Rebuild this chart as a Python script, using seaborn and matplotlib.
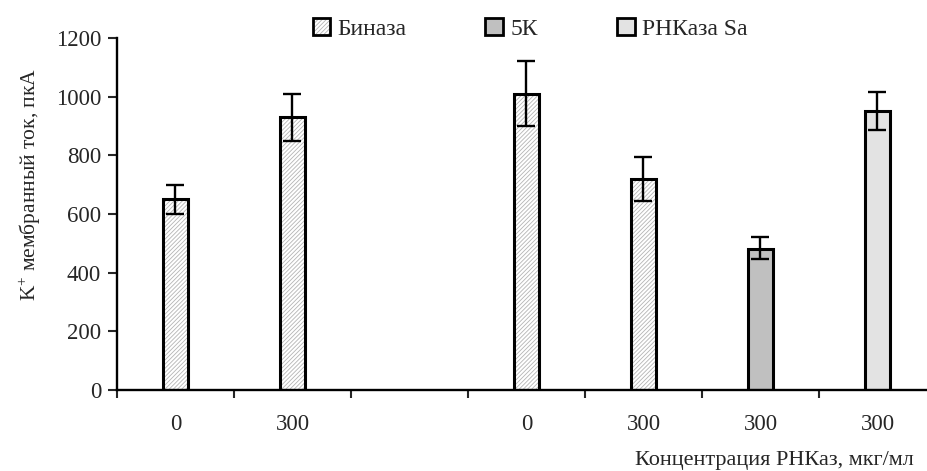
import matplotlib
matplotlib.use('Agg')
import matplotlib.pyplot as plt
from matplotlib.patches import Patch
import pandas as pd
import seaborn as sns

# category slots along x (one empty slot between the two groups)
slots = ['a', 'b', 'gap', 'c', 'd', 'e', 'f']
tick_labels = ['0', '300', '', '0', '300', '300', '300']

bar_slot = ['a', 'b', 'c', 'd', 'e', 'f']
bar_series = ['Биназа', 'Биназа', 'Биназа', 'Биназа', '5К', 'РНКаза Sa']
bar_values = [650, 930, 1010, 720, 480, 950]
err_low = [600, 850, 900, 645, 445, 885]
err_high = [700, 1010, 1120, 795, 520, 1015]

series_names = ['Биназа', '5К', 'РНКаза Sa']
fill_colors = ['white', '#c0c0c0', '#e3e3e3']

df = pd.DataFrame({'slot': bar_slot, 'series': bar_series, 'value': bar_values})

sns.set_style('white')
plt.rcParams['font.family'] = ['Liberation Serif', 'DejaVu Serif']
plt.rcParams['mathtext.fontset'] = 'custom'
plt.rcParams['mathtext.rm'] = 'Liberation Serif'
plt.rcParams['hatch.linewidth'] = 0.6

fig = plt.figure(figsize=(9.28, 4.71), dpi=100)
ax = fig.add_axes([117 / 928, 1 - 390 / 471, 819 / 928, 352 / 471])

# filled bars (no edges), hatching for Биназа
sns.barplot(data=df, x='slot', y='value', hue='series', order=slots,
            hue_order=series_names, palette=fill_colors, dodge=False,
            width=0.22, linewidth=0, errorbar=None, legend=False, ax=ax)
for p in ax.containers[0]:
    p.set_hatch('////////')
    p.set_edgecolor('#b4b4b4')

# black outlines on top
sns.barplot(data=df, x='slot', y='value', hue='series', order=slots,
            hue_order=series_names, palette=['black'] * 3, dodge=False,
            width=0.22, fill=False, linewidth=2.2, errorbar=None,
            legend=False, ax=ax)

xpos = [slots.index(s) for s in bar_slot]
yerr = [[v - lo for v, lo in zip(bar_values, err_low)],
        [hi - v for v, hi in zip(bar_values, err_high)]]
ax.errorbar(xpos, bar_values, yerr=yerr, fmt='none', ecolor='black',
            elinewidth=1.7, capsize=6.3, capthick=1.7, zorder=5)

ax.set_xlim(-0.5, 6.5)
ax.set_ylim(0, 1200)
ax.set_yticks(range(0, 1201, 200))
ax.tick_params(axis='y', direction='out', length=6.5, width=1.5,
               labelsize=16.5, pad=5, left=True)

ax.set_xticks([i - 0.5 for i in range(7)])
ax.set_xticklabels([])
ax.set_xticks(range(7), minor=True)
ax.set_xticklabels(tick_labels, minor=True)
ax.tick_params(axis='x', which='major', direction='out', length=6,
               width=1.5, bottom=True)
ax.tick_params(axis='x', which='minor', length=0, labelsize=16.5, pad=17)

for side in ['top', 'right']:
    ax.spines[side].set_visible(False)
for side in ['left', 'bottom']:
    ax.spines[side].set_linewidth(1.7)
    ax.spines[side].set_color('black')

ax.set_xlabel('')
ax.set_ylabel(r'K$^{+}$ мембранный ток, пкА', fontsize=15.5)
ax.yaxis.set_label_coords(-0.09, 0.585)

fig.text(914 / 928, 1 - 460 / 471, 'Концентрация РНКаз, мкг/мл',
         ha='right', va='center', fontsize=16)

handles = [
    (Patch(facecolor='white', edgecolor='#b4b4b4', hatch='////////', linewidth=0),
     Patch(fill=False, edgecolor='black', linewidth=2)),
    Patch(facecolor=fill_colors[1], edgecolor='black', linewidth=2),
    Patch(facecolor=fill_colors[2], edgecolor='black', linewidth=2),
]
fig.legend(handles, series_names, loc='center', bbox_to_anchor=(0.571, 1 - 29 / 471),
           ncol=3, frameon=False, fontsize=17, handlelength=0.75,
           handleheight=0.75, handletextpad=0.3, columnspacing=3.35)

fig.savefig('out.png', dpi=100)
